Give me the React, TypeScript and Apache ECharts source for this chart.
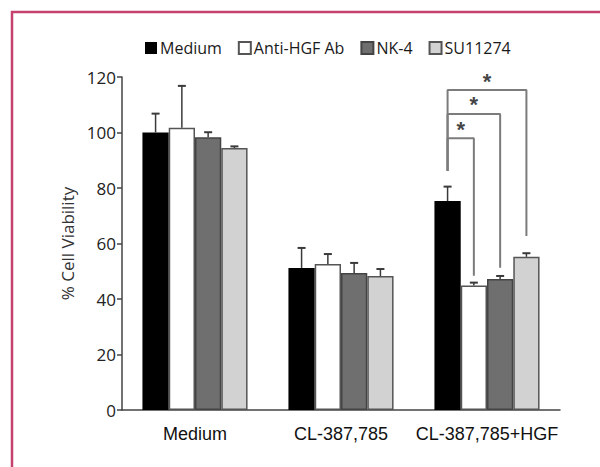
import React, { useEffect, useRef } from "react";
import * as echarts from "echarts";

const categories = ["Medium", "CL-387,785", "CL-387,785+HGF"];
const seriesNames = ["Medium", "Anti-HGF Ab", "NK-4", "SU11274"];
const mediumValues = [100, 51.2, 75.3];
const mediumErrors = [6.8, 7.2, 5.2];
const antiHgfValues = [101.7, 52.6, 44.9];
const antiHgfErrors = [15.1, 3.6, 1.0];
const nk4Values = [98.3, 49.4, 47.2];
const nk4Errors = [1.8, 3.6, 1.1];
const suValues = [94.4, 48.3, 55.2];
const suErrors = [0.6, 2.5, 1.3];
const yTicks = [0, 20, 40, 60, 80, 100, 120];

// significance brackets in the third group: from Medium bar to series index
const bracketGroup = 2;
const bracketTargets = [1, 2, 3];
const bracketHeights = [97.9, 106.7, 115.3];
const bracketLeftBottom = 86.1;
const bracketRightBottoms = [48.4, 51.3, 62.7];
const bracketLabels = ["*", "*", "*"];

const fills = ["#000000", "#ffffff", "#6f6f6f", "#d2d2d2"];
const borders = ["#1a1a1a", "#555555", "#444444", "#555555"];
const barFrac = 0.18;

export default function App() {
  const ref = useRef<HTMLDivElement>(null);
  useEffect(() => {
    const chart = echarts.init(ref.current!, null, { renderer: "svg" });
    const values = [mediumValues, antiHgfValues, nk4Values, suValues];
    const errors = [mediumErrors, antiHgfErrors, nk4Errors, suErrors];
    const pos = (g: number, s: number) => g + (s - 1.5) * barFrac;

    const barSeries = seriesNames.map((name, s) => ({
      name,
      type: "bar",
      xAxisIndex: 0,
      yAxisIndex: 0,
      data: values[s],
      barWidth: barFrac * 100 + "%",
      barGap: "0%",
      itemStyle: { color: fills[s], borderColor: borders[s], borderWidth: s === 0 ? 0 : 1.5 },
      z: 2,
    }));

    const errData: number[][] = [];
    values.forEach((arr, s) =>
      arr.forEach((v, g) => errData.push([pos(g, s), v, v + errors[s][g]]))
    );

    const errSeries = {
      type: "custom",
      xAxisIndex: 1,
      yAxisIndex: 0,
      data: errData,
      z: 5,
      renderItem: (params: any, api: any) => {
        const x = api.value(0);
        const p0 = api.coord([x, api.value(1)]);
        const p1 = api.coord([x, api.value(2)]);
        const st = { stroke: "#3a3a3a", lineWidth: 1.5 };
        return {
          type: "group",
          children: [
            { type: "line", shape: { x1: p0[0], y1: p0[1], x2: p1[0], y2: p1[1] }, style: st },
            { type: "line", shape: { x1: p1[0] - 4, y1: p1[1], x2: p1[0] + 4, y2: p1[1] }, style: { stroke: "#3a3a3a", lineWidth: 2 } },
          ],
        };
      },
    };

    const bracketSeries = bracketTargets.map((t, i) => {
      const xl = pos(bracketGroup, 0);
      const xr = pos(bracketGroup, t);
      return {
        type: "line",
        xAxisIndex: 1,
        yAxisIndex: 0,
        data: [
          [xl, bracketLeftBottom],
          [xl, bracketHeights[i]],
          [xr, bracketHeights[i]],
          [xr, bracketRightBottoms[i]],
        ],
        symbol: "none",
        silent: true,
        lineStyle: { color: "#7c7c7c", width: 2 },
        z: 4,
      };
    });

    const starSeries = {
      type: "scatter",
      xAxisIndex: 1,
      yAxisIndex: 0,
      symbolSize: 0,
      silent: true,
      data: bracketTargets.map((t, i) => [
        (pos(bracketGroup, 0) + pos(bracketGroup, t)) / 2,
        bracketHeights[i],
        bracketLabels[i],
      ]),
      label: {
        show: true,
        position: "top",
        distance: -2,
        formatter: (p: any) => p.value[2],
        fontSize: 22,
        fontWeight: "bold",
        color: "#111",
        fontFamily: "Liberation Sans",
      },
      z: 6,
    };

    chart.setOption({
      animation: false,
      backgroundColor: "#ffffff",
      graphic: [
        {
          type: "polyline",
          shape: { points: [[12, 467], [12, 12], [600, 12]] },
          style: { stroke: "#c4426b", lineWidth: 2.5, fill: "none" },
          silent: true,
        },
      ],
      legend: {
        data: seriesNames,
        left: 140,
        top: 35,
        itemWidth: 12,
        itemHeight: 12,
        itemGap: 16,
        icon: "rect",
        selectedMode: false,
        textStyle: { fontFamily: "Open Sans", fontSize: 16, color: "#1a1a1a", padding: [0, 0, 0, -2] },
      },
      grid: { left: 122, right: 40, top: 77, bottom: 57, containLabel: false },
      xAxis: [
        {
          type: "category",
          data: categories,
          boundaryGap: true,
          axisLine: { lineStyle: { color: "#444", width: 1.5 } },
          axisTick: { show: false },
          axisLabel: { interval: 0, fontFamily: "Liberation Sans", fontSize: 18, color: "#111", margin: 15 },
        },
        { type: "value", min: -0.5, max: 2.5, show: false },
      ],
      yAxis: {
        type: "value",
        min: yTicks[0],
        max: yTicks[yTicks.length - 1],
        interval: 20,
        name: "% Cell Viability",
        nameLocation: "middle",
        nameGap: 45,
        nameTextStyle: { fontFamily: "Open Sans", fontSize: 17, color: "#333" },
        axisLine: { show: true, onZero: false, lineStyle: { color: "#444", width: 1.5 } },
        axisTick: { show: true, length: 5, lineStyle: { color: "#444", width: 1.5 } },
        splitLine: { show: false },
        axisLabel: { fontFamily: "Open Sans", fontSize: 17, color: "#222", margin: 6 },
      },
      series: [...barSeries, errSeries, ...bracketSeries, starSeries],
    });
    return () => chart.dispose();
  }, []);
  return (
    <div
      ref={ref}
      style={{ position: "fixed", left: 0, top: 0, width: 600, height: 467, background: "#fff" }}
    />
  );
}
